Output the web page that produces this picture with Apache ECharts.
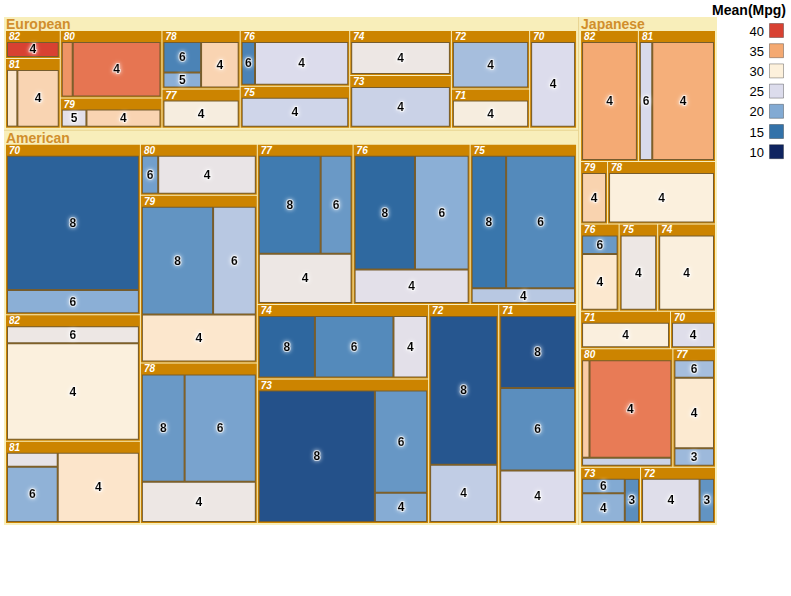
<!DOCTYPE html>
<html><head><meta charset="utf-8">
<script src="https://cdn.jsdelivr.net/npm/echarts@6/dist/echarts.min.js"></script>
<style>html,body{margin:0;padding:0;background:#fff}#c{width:791px;height:596px}</style>
</head><body><div id="c"></div>
<script>
// ---- data (Origin -> Year -> Cylinders; size = count of cars, color = mean MPG) ----
const origins = ['European', 'American', 'Japanese'];

const euYears = ['82','81','80','79','78','77','76','75','74','73','72','71','70'];
const euCyl   = [[4],[6,4],[5,4],[5,4],[6,5,4],[4],[6,4],[4],[4],[4],[4],[4],[4]];
const euCount = [[2],[1,4],[1,8],[1,3],[2,1,3],[4],[1,7],[6],[6],[7],[6],[4],[6]];
const euMpg   = [[40],[30.7,32],[36,37.5],[26,32],[16.5,20.5,32],[29],[16.5,25],[24.3],[27.5],[24],[22],[29],[25]];

const usYears = ['70','82','81','80','79','78','77','76','75','74','73','72','71'];
const usCyl   = [[8,6],[6,4],[8,6,4],[6,4],[8,6,4],[8,6,4],[8,6,4],[8,6,4],[8,6,4],[8,6,4],[8,6,4],[8,4],[8,6,4]];
const usCount = [[23,4],[3,17],[1,4,8],[1,6],[10,6,7],[6,10,6],[8,4,6],[9,8,5],[6,12,2],[5,7,3],[20,7,2],[13,5],[7,8,5]];
const usMpg   = [[14,20.5],[27.5,29.7],[26.6,20.8,30.8],[19,27],[18,23,30.7],[18.5,19.4,27.5],[15.8,18.5,27.5],[14.4,20.5,26],[15.4,17.1,23],[14.3,17.1,26],[12.9,18.3,20.2],[13.2,23.5],[13,17.5,25]];

const jpYears = ['82','81','79','78','76','75','74','71','70','80','77','73','72'];
const jpCyl   = [[4],[6,4],[4],[4],[6,4],[4],[4],[4],[4],[6,4,3],[6,4,3],[6,4,3],[4,3]];
const jpCount = [[9],[2,10],[2],[8],[1,3],[4],[6],[4],[2],[1,11,1],[1,4,1],[1,2,1],[4,1]];
const jpMpg   = [[34.9],[24.8,34.6],[32.1],[29.7],[18.5,30.6],[27.5],[29.6],[29.5],[25.5],[32.5,37.2,24],[22,30.5,21.5],[20,20.8,17.5],[25.5,18]];

// colour scale for Mean(Mpg): stops at 10,15,20,25,30,35,40
const scaleStops  = [10, 15, 20, 25, 30, 35, 40];
const scaleColors = ['#0f2460', '#3372a9', '#82aad3', '#dcdcec', '#fdf1dc', '#f4a972', '#d84132'];
const legendValues = [40, 35, 30, 25, 20, 15, 10];
const legendTitle = 'Mean(Mpg)';

function buildYears(years, cyls, counts, mpgs) {
  return years.map((y, i) => ({
    name: y,
    children: cyls[i].map((c, j) => ({ name: String(c), value: [counts[i][j], mpgs[i][j]] }))
  }));
}
const treeData = [
  { name: origins[0], children: buildYears(euYears, euCyl, euCount, euMpg) },
  { name: origins[1], children: buildYears(usYears, usCyl, usCount, usMpg) },
  { name: origins[2], children: buildYears(jpYears, jpCyl, jpCount, jpMpg) }
];

const FONT = "'Liberation Sans', Arial, Helvetica, sans-serif";
const chart = echarts.init(document.getElementById('c'), null, { renderer: 'svg' });

const legendGraphics = [{
  type: 'text', x: 786, y: 10,
  style: { text: legendTitle, align: 'right', verticalAlign: 'middle', textAlign: 'right', textVerticalAlign: 'middle',
           fill: '#000', font: "bold 14px " + FONT }
}];
legendValues.forEach((v, i) => {
  const col = scaleColors[scaleStops.indexOf(v)];
  legendGraphics.push({
    type: 'rect', shape: { x: 769.5, y: 23.5 + i * 20.2, width: 14, height: 14 },
    style: { fill: col, stroke: 'rgba(0,0,0,0.3)', lineWidth: 1 }
  });
  legendGraphics.push({
    type: 'text', x: 764, y: 31 + i * 20.2,
    style: { text: String(v), align: 'right', verticalAlign: 'middle', textAlign: 'right', textVerticalAlign: 'middle',
             fill: '#000', font: "13px " + FONT }
  });
});

chart.setOption({
  animation: false,
  series: [{
    type: 'treemap',
    left: 4, top: 17, width: 713, height: 508,
    roam: false, nodeClick: false,
    breadcrumb: { show: false },
    sort: false,
    squareRatio: 1.606,
    drillDownIcon: '',
    visibleMin: 0,
    label: { show: false },
    upperLabel: { show: false },
    levels: [
      {
        itemStyle: { borderWidth: 0, gapWidth: 1, borderColor: '#e8d490' },
        upperLabel: { show: false }
      },
      {
        itemStyle: { borderWidth: 2, gapWidth: 1, borderColor: '#f8eeba' },
        upperLabel: { show: true, height: 14, color: '#d18e2c', fontSize: 14, lineHeight: 14,
                      fontWeight: 'bold', fontFamily: FONT, padding: [0, 0, 0, 0] }
      },
      {
        itemStyle: { borderWidth: 1, gapWidth: 0, borderColor: '#cc8400' },
        upperLabel: { show: true, height: 11, color: '#fff', fontSize: 10, lineHeight: 10,
                      fontWeight: 'bold', fontStyle: 'italic', fontFamily: FONT, padding: [1, 0, 0, 2] },
        color: scaleColors, colorMappingBy: 'value', visualDimension: 1,
        visualMin: scaleStops[0], visualMax: scaleStops[scaleStops.length - 1]
      },
      {
        itemStyle: { borderWidth: 1, gapWidth: 0, borderColor: 'rgba(70,70,70,0.65)' },
        label: { show: true, formatter: '{b}', position: 'inside', color: '#000', fontSize: 12, lineHeight: 12,
                 fontWeight: 'bold', fontFamily: FONT, padding: [0, 1, 0, 1],
                 textShadowColor: '#fff', textShadowBlur: 4,
                 textBorderColor: 'rgba(255,255,255,0.6)', textBorderWidth: 2 }
      }
    ],
    data: treeData
  }],
  graphic: legendGraphics
});
</script></body></html>
